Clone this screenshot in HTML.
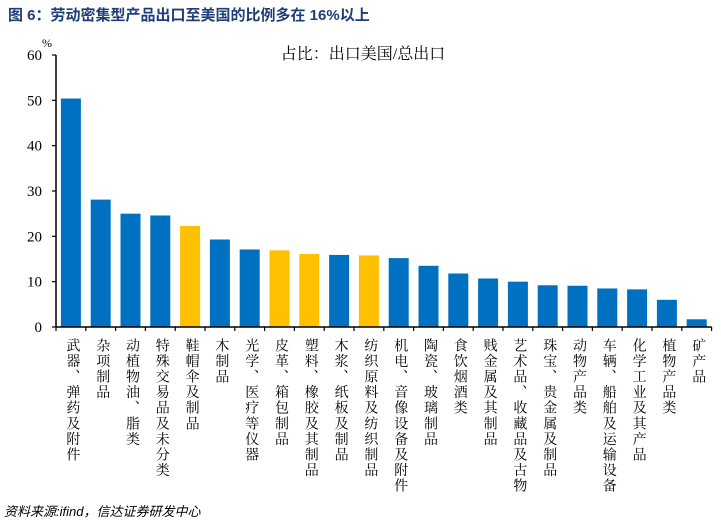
<!DOCTYPE html>
<html><head><meta charset="utf-8"><style>
body{margin:0;background:#fff;width:721px;height:526px;overflow:hidden}
svg{display:block}
</style></head><body>
<svg id="chart" width="721" height="526" xmlns="http://www.w3.org/2000/svg">
<text x="8" y="20" font-family="'Liberation Sans','Noto Sans CJK SC',sans-serif" font-size="15" font-weight="bold" fill="#1f3d78">图 6：劳动密集型产品出口至美国的比例多在 16%以上</text>
<text x="363" y="59" text-anchor="middle" font-family="'Liberation Serif','Noto Serif CJK SC',serif" font-size="16" fill="#000">占比：出口美国/总出口</text>
<text x="42" y="47" font-family="'Liberation Serif',serif" font-size="12" fill="#000">%</text>
<g id="yaxis"></g><g id="bars"></g><g id="xaxis"></g>
<text x="4" y="516" font-family="'Liberation Sans','Noto Sans CJK SC',sans-serif" font-size="13" font-style="italic" fill="#000">资料来源:ifind，信达证券研发中心</text>
</svg>
<script>
const categories=["武器、弹药及附件","杂项制品","动植物油、脂类","特殊交易品及未分类","鞋帽伞及制品","木制品","光学、医疗等仪器","皮革、箱包制品","塑料、橡胶及其制品","木浆、纸板及制品","纺织原料及纺织制品","机电、音像设备及附件","陶瓷、玻璃制品","食饮烟酒类","贱金属及其制品","艺术品、收藏品及古物","珠宝、贵金属及制品","动物产品类","车辆、船舶及运输设备","化学工业及其产品","植物产品类","矿产品"];
const values=[50.4,28.1,25.0,24.6,22.3,19.3,17.1,16.9,16.1,15.9,15.8,15.2,13.5,11.8,10.7,10.0,9.2,9.1,8.5,8.3,6.0,1.7];
const highlighted=[0,0,0,0,1,0,0,1,1,0,1,0,0,0,0,0,0,0,0,0,0,0];
const yTicks=[0,10,20,30,40,50,60];
const NS="http://www.w3.org/2000/svg";
const x0=56,band=29.8,y0=327,yTop=55,yMax=60;
const yScale=v=>y0-(y0-yTop)*v/yMax;
const xScale=i=>x0+band*i;
function mk(tag,attrs,parent){const e=document.createElementNS(NS,tag);for(const k in attrs)e.setAttribute(k,attrs[k]);parent.appendChild(e);return e;}
const ya=document.getElementById('yaxis'),ba=document.getElementById('bars'),xa=document.getElementById('xaxis');
const yl=mk('line',{x1:x0,x2:x0,y1:yTop,y2:y0,stroke:'#000','stroke-width':1.5},ya);


yTicks.forEach(t=>{
  const y=yScale(t);
  const tk=mk('line',{x1:x0-4,x2:x0,y1:y,y2:y,stroke:'#000','stroke-width':1.2},ya);
  
  
  const tx=mk('text',{x:x0-14,y:y+5,'text-anchor':'end','font-family':"'Liberation Serif',serif",'font-size':15},ya);
  tx.textContent=t;
  
  
});
values.forEach((v,i)=>{
  const cx=xScale(i)+band/2,y=yScale(v);
  const r=mk('rect',{x:cx-10,y:y,width:20,height:y0-y,fill:highlighted[i]?'#ffc000':'#0070c0'},ba);
  
  
});
const xl=mk('line',{x1:x0,x2:xScale(categories.length),y1:y0,y2:y0,stroke:'#000','stroke-width':1.5},xa);


for(let i=0;i<=categories.length;i++){
  const tk=mk('line',{x1:xScale(i),x2:xScale(i),y1:y0,y2:y0+4,stroke:'#000','stroke-width':1.2},xa);
  
  
}
categories.forEach((c,i)=>{
  const cx=xScale(i)+band/2+1;
  const t=mk('text',{x:cx,y:338,'writing-mode':'tb','font-family':"'Liberation Serif','Noto Serif CJK SC',serif",'font-size':14,'letter-spacing':1.6,'glyph-orientation-vertical':0},xa);
  t.setAttribute('style','writing-mode:vertical-rl;text-orientation:upright');
  t.textContent=c;
  
  
});
</script>
</body></html>
